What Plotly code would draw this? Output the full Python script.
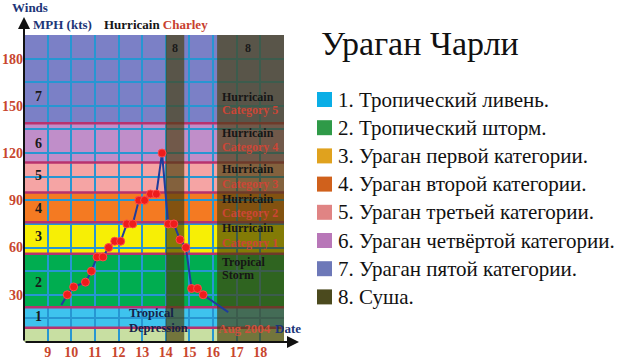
import plotly.graph_objects as go

# ---- data ----
track_day = [9.58, 9.83, 10.1, 10.6, 10.85, 11.09, 11.34, 11.58, 11.84, 12.09, 12.35, 12.6,
             12.86, 13.1, 13.35, 13.6, 13.84, 14.1, 14.34, 14.6, 14.85, 15.09, 15.34, 15.58, 16.64]
track_wind = [23.5, 30, 35, 38, 45, 54, 54, 60, 64, 64, 75, 75,
              90, 90, 94, 94, 120, 75, 75, 65, 60, 34, 34, 30, 19]
track_marked = [False] + [True] * 23 + [False]

band_edges = [0, 9, 22, 56, 76, 95, 114, 139, 195]
band_fill = ["#c8dfa2", "#3ec3ee", "#00ad50", "#f7ef05", "#f47a22", "#f5a4a4", "#c08ec9", "#7b80c6"]
band_number = ["", "1", "2", "3", "4", "5", "6", "7"]
band_number_y = [0, 16, 37.5, 66.7, 85, 106, 126.4, 155.7]

land_start = [14.0, 16.17]
land_end = [14.78, 19.0]

x_ticks = [9, 10, 11, 12, 13, 14, 15, 16, 17, 18]
y_ticks = [30, 60, 90, 120, 150, 180]

legend_labels = ["1. Тропический ливень.", "2. Тропический шторм.", "3. Ураган первой категории.",
                 "4. Ураган второй категории.", "5. Ураган третьей категории.",
                 "6. Ураган четвёртой категории.", "7. Ураган пятой категории.", "8. Суша."]
legend_colors = ["#0aaee6", "#2f9a48", "#e0a21e", "#d0611c", "#e08484", "#b877b8", "#6d78b8", "#4b4a1e"]

X0, X1 = 8, 19
SERIF = "Liberation Serif, Times New Roman, serif"
TICKRED = "#c8462e"
NAVY = "#1c3578"

fig = go.Figure()

mx = [d for d, m in zip(track_day, track_marked) if m]
my = [w for w, m in zip(track_wind, track_marked) if m]
fig.add_trace(go.Scatter(x=track_day, y=track_wind, mode="lines",
                         line=dict(color="#1f3c9c", width=2), hoverinfo="skip"))
fig.add_trace(go.Scatter(x=mx, y=my, mode="markers",
                         marker=dict(color="#ee1c1c", size=8, line=dict(color="#ff4a4a", width=1))))

shapes = []
for i in range(len(band_fill)):
    shapes.append(dict(type="rect", xref="x", yref="y", x0=X0, x1=X1,
                       y0=band_edges[i], y1=band_edges[i + 1],
                       fillcolor=band_fill[i], line=dict(width=0), layer="below"))
for e in band_edges[1:-1]:
    shapes.append(dict(type="line", xref="x", yref="y", x0=X0, x1=X1, y0=e, y1=e,
                       line=dict(color="#b8326e", width=2.5), layer="between"))
for s, e in zip(land_start, land_end):
    shapes.append(dict(type="rect", xref="x", yref="y", x0=s, x1=e, y0=0, y1=band_edges[-1],
                       fillcolor="rgba(72,62,8,0.66)", line=dict(width=0), layer="between"))

ann = []


def A(**kw):
    kw.setdefault("showarrow", False)
    kw.setdefault("xanchor", "center")
    kw.setdefault("yanchor", "middle")
    ann.append(kw)


# band numbers
for lab, yv in zip(band_number, band_number_y):
    if lab:
        A(x=8.6, y=yv, xref="x", yref="y", text="<b>%s</b>" % lab,
          font=dict(family=SERIF, size=14, color="#1a1a1a"))
# land "8" labels
for s, e in zip(land_start, land_end):
    A(x=(s + min(e, 18.8)) / 2, y=186.5, xref="x", yref="y", text="<b>8</b>",
      font=dict(family=SERIF, size=12, color="#1a1a1a"))
# category labels in land band
cats = [("Hurricain", "Category 5", 155.6, 147.3), ("Hurricain", "Category 4", 132.6, 123.7),
        ("Hurricain", "Category 3", 109.6, 100.5), ("Hurricain", "Category 2", 91.0, 82.0),
        ("Hurricain", "Category 1", 72.3, 63.2), ("Tropical", "Storm", 51.0, 42.5)]
for a, b, ya, yb in cats:
    A(x=16.28, y=ya, xref="x", yref="y", xanchor="left", text="<b>%s</b>" % a,
      font=dict(family=SERIF, size=12, color="#161616"))
    colb = "#161616" if b == "Storm" else "#cc4636"
    A(x=16.28, y=yb, xref="x", yref="y", xanchor="left", text="<b>%s</b>" % b,
      font=dict(family=SERIF, size=12, color=colb))
A(x=12.35, y=18.5, xref="x", yref="y", xanchor="left", text="<b>Tropical</b>",
  font=dict(family=SERIF, size=12.5, color="#16224a"))
A(x=12.35, y=8.8, xref="x", yref="y", xanchor="left", text="<b>Depression</b>",
  font=dict(family=SERIF, size=12.5, color="#16224a"))
A(x=16.12, y=8.8, xref="x", yref="y", xanchor="left", text="<b>Aug 2004</b>",
  font=dict(family=SERIF, size=13, color="#d0503c"))


def px(x):
    return (x - 24) / 260.0


def py(y):
    return (342 - y) / 307.0


A(x=px(273), y=py(328), xref="paper", yref="paper", xanchor="left", text="<b>Date</b>",
  font=dict(family=SERIF, size=13, color=NAVY))
# axis arrows
ann.append(dict(x=px(24), y=py(17), xref="paper", yref="paper", ax=0, ay=325, showarrow=True,
                arrowhead=2, arrowsize=1.2, arrowwidth=2, arrowcolor="#111111", text=""))
ann.append(dict(x=px(299), y=py(342), xref="paper", yref="paper", ax=-275, ay=0, showarrow=True,
                arrowhead=2, arrowsize=1.2, arrowwidth=2, arrowcolor="#111111", text=""))
# header texts
A(x=px(10), y=py(8), xref="paper", yref="paper", xanchor="left", text="<b>Winds</b>",
  font=dict(family=SERIF, size=13, color=NAVY))
A(x=px(31), y=py(25), xref="paper", yref="paper", xanchor="left", text="<b>MPH (kts)</b>",
  font=dict(family=SERIF, size=13, color=NAVY))
A(x=px(102), y=py(25), xref="paper", yref="paper", xanchor="left",
  text="<b>Hurricain <span style='color:#c8402e'>Charley</span></b>",
  font=dict(family=SERIF, size=13, color="#161616"))
# right-side title and legend
A(x=px(319), y=py(43), xref="paper", yref="paper", xanchor="left", text="Ураган Чарли",
  font=dict(family=SERIF, size=34, color="#111111"))
for i, (lab, col) in enumerate(zip(legend_labels, legend_colors)):
    yc = 99.5 + 28.2 * i
    shapes.append(dict(type="rect", xref="paper", yref="paper", x0=px(317), x1=px(332),
                       y0=py(yc + 7.5), y1=py(yc - 7.5), fillcolor=col, line=dict(width=0)))
    A(x=px(336), y=py(yc), xref="paper", yref="paper", xanchor="left", text=lab,
      font=dict(family=SERIF, size=21, color="#111111"))

grid = "#2796d2"
fig.update_layout(
    width=640, height=360,
    margin=dict(l=24, r=356, t=35, b=18),
    paper_bgcolor="white", plot_bgcolor="white",
    showlegend=False,
    shapes=shapes, annotations=ann,
    xaxis=dict(range=[X0, X1], tickvals=x_ticks, showgrid=True, gridcolor=grid, gridwidth=1.5,
               minor=dict(tick0=0, dtick=1, showgrid=True, gridcolor=grid, gridwidth=1.5),
               zeroline=False, showline=False, ticks="", automargin=False,
               tickfont=dict(family=SERIF, size=14, color=TICKRED, weight="bold")),
    yaxis=dict(range=[0, 195], tickvals=y_ticks, showgrid=True, gridcolor=grid, gridwidth=1.5,
               minor=dict(tick0=0, dtick=15, showgrid=True, gridcolor=grid, gridwidth=1.5),
               zeroline=False, showline=False, ticks="", automargin=False,
               tickfont=dict(family=SERIF, size=14, color=TICKRED, weight="bold")),
)

fig.write_html("out.html", config={"displayModeBar": False},
               post_script="document.body.style.margin='0';document.documentElement.style.overflow='hidden';")
